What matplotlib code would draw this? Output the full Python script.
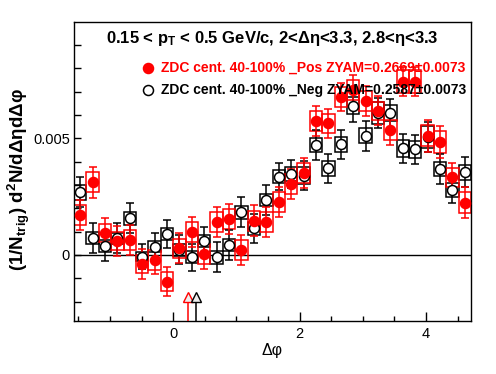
import numpy as np
import matplotlib
matplotlib.use('Agg')
import matplotlib.pyplot as plt

plt.rcParams['font.family'] = ['Liberation Sans', 'DejaVu Sans']
plt.rcParams['mathtext.fontset'] = 'custom'
plt.rcParams['mathtext.rm'] = 'Liberation Sans'
plt.rcParams['mathtext.bf'] = 'Liberation Sans:bold'
plt.rcParams['mathtext.it'] = 'Liberation Sans:italic'

# 32 bins in delta phi from -pi/2 to 3pi/2
n_bins = 32
bin_w = 2 * np.pi / n_bins
dphi = -np.pi / 2 + (np.arange(n_bins) + 0.5) * bin_w

# ZDC 40-100% _Pos (values in units of 1e-3)
pos_y = [1.71, 3.11, 0.93, 0.61, 0.64, -0.39, -0.21, -1.14,
         0.28, 0.97, 0.03, 1.40, 1.54, 0.21, 1.46, 1.40,
         2.28, 3.04, 3.52, 5.75, 5.64, 6.76, 7.07, 6.61,
         6.17, 5.36, 7.43, 7.43, 5.10, 4.83, 3.33, 2.24]
pos_stat = [0.63, 0.66, 0.64, 0.64, 0.64, 0.64, 0.60, 0.64,
            0.64, 0.64, 0.64, 0.64, 0.63, 0.64, 0.66, 0.64,
            0.64, 0.63, 0.64, 0.65, 0.63, 0.61, 0.63, 0.64,
            0.62, 0.64, 0.62, 0.62, 0.69, 0.69, 0.62, 0.66]
pos_sys = [0.41, 0.43, 0.39, 0.39, 0.41, 0.39, 0.43, 0.42,
           0.40, 0.43, 0.42, 0.43, 0.42, 0.43, 0.42, 0.42,
           0.42, 0.41, 0.42, 0.43, 0.41, 0.42, 0.43, 0.43,
           0.40, 0.42, 0.48, 0.48, 0.45, 0.46, 0.40, 0.45]

# ZDC 40-100% _Neg
neg_y = [2.69, 0.72, 0.37, 0.72, 1.57, -0.07, 0.36, 0.90,
         0.22, -0.10, 0.60, -0.10, 0.43, 1.83, 1.14, 2.36,
         3.36, 3.46, 3.40, 4.71, 3.71, 4.74, 6.40, 5.11,
         6.10, 6.07, 4.57, 4.53, 5.05, 3.68, 2.79, 3.54]
neg_stat = [0.64, 0.63, 0.63, 0.64, 0.64, 0.55, 0.60, 0.60,
            0.62, 0.59, 0.60, 0.64, 0.64, 0.64, 0.62, 0.64,
            0.59, 0.61, 0.62, 0.64, 0.62, 0.63, 0.71, 0.64,
            0.64, 0.63, 0.62, 0.62, 0.63, 0.65, 0.57, 0.64]
neg_sys = [0.32, 0.27, 0.25, 0.23, 0.29, 0.21, 0.25, 0.25,
           0.25, 0.25, 0.27, 0.27, 0.26, 0.27, 0.27, 0.27,
           0.29, 0.29, 0.36, 0.32, 0.31, 0.33, 0.38, 0.32,
           0.47, 0.35, 0.36, 0.36, 0.48, 0.31, 0.29, 0.32]

zyam_x = [0.231, 0.358]          # pos, neg
labels = ['ZDC cent. 40-100% _Pos ZYAM=0.2669\u00b10.0073',
          'ZDC cent. 40-100% _Neg ZYAM=0.2587\u00b10.0073']
title = r'0.15 < p$_{\mathbf{T}}$ < 0.5 GeV/c, 2<Δη<3.3, 2.8<η<3.3'

scale = 1e-3
pos_y = np.array(pos_y) * scale
pos_stat = np.array(pos_stat) * scale
pos_sys = np.array(pos_sys) * scale
neg_y = np.array(neg_y) * scale
neg_stat = np.array(neg_stat) * scale
neg_sys = np.array(neg_sys) * scale

fig = plt.figure(figsize=(4.96, 3.74), dpi=100)
ax = fig.add_axes([74 / 496, 53 / 374, 397 / 496, 299 / 374])

ymin, ymax = -0.00283, 0.00998
ax.set_xlim(-np.pi / 2, 3 * np.pi / 2)
ax.set_ylim(ymin, ymax)

ax.axhline(0, color='black', lw=1, zorder=1)

for y, st, sy, c, filled in [(neg_y, neg_stat, neg_sys, 'black', False),
                             (pos_y, pos_stat, pos_sys, 'red', True)]:
    ax.bar(dphi, 2 * sy, bottom=y - sy, width=bin_w, fill=False,
           edgecolor=c, lw=1.1, zorder=2)
    ax.errorbar(dphi, y, yerr=st, fmt='none', ecolor=c, elinewidth=1.1,
                capsize=2.6, capthick=1.1, zorder=3)
    ax.plot(dphi, y, 'o', ms=7.2, mec=c, mew=1.1,
            mfc=c if filled else 'white', zorder=4)

# ZYAM arrows
tri_base = -0.00201
for x, c in zip(zyam_x, ['red', 'black']):
    ax.plot([x, x], [ymin, tri_base], color=c, lw=1.1, zorder=5)
    ax.plot(x, tri_base + 0.00022, marker='^', ms=7.8, mfc='#eeeeee',
            mec=c, mew=1.0, zorder=6)

# title and legend
ax.text(0.5, 0.930, title, transform=ax.transAxes, ha='center',
        va='baseline', fontsize=12, fontweight='bold')
for i, (lab, c) in enumerate(zip(labels, ['red', 'black'])):
    yy = 0.846 - i * 0.074
    ax.plot(0.186, yy, 'o', ms=7.2, mec=c, mew=1.1,
            mfc=c if c == 'red' else 'white', transform=ax.transAxes,
            clip_on=False, zorder=7)
    ax.text(0.219, yy, lab, transform=ax.transAxes, ha='left',
            va='center', fontsize=10, fontweight='bold', color=c, zorder=8)

# axes styling, ROOT look
ax.set_xticks([0, 2, 4])
ax.set_xticks(np.arange(-1.5, 4.75, 0.5), minor=True)
ax.set_yticks([0, 0.005])
ax.set_yticklabels(['0', '0.005'])
ax.set_yticks(np.arange(-0.002, 0.0099, 0.001), minor=True)
ax.tick_params(axis='x', which='major', direction='in', length=6.5,
               width=1, labelsize=10.5, pad=4, top=False)
ax.tick_params(axis='x', which='minor', direction='in', length=3.3,
               width=1, top=False)
ax.tick_params(axis='y', which='both', direction='in', length=5,
               width=1, labelsize=10.5, pad=3, right=False)
for sp in ax.spines.values():
    sp.set_linewidth(1)

ax.text(0.5, -0.097, 'Δφ', transform=ax.transAxes, ha='center',
        va='center', fontsize=11.5)
fig.text(19 / 496, 1 - 88 / 374,
         r'(1/N$_{\mathbf{trig}}$) d$^{\mathbf{2}}$N/dΔηdΔφ',
         rotation=90, ha='center', va='top', fontsize=13.5,
         fontweight='bold')

fig.savefig('out.png', dpi=100)
